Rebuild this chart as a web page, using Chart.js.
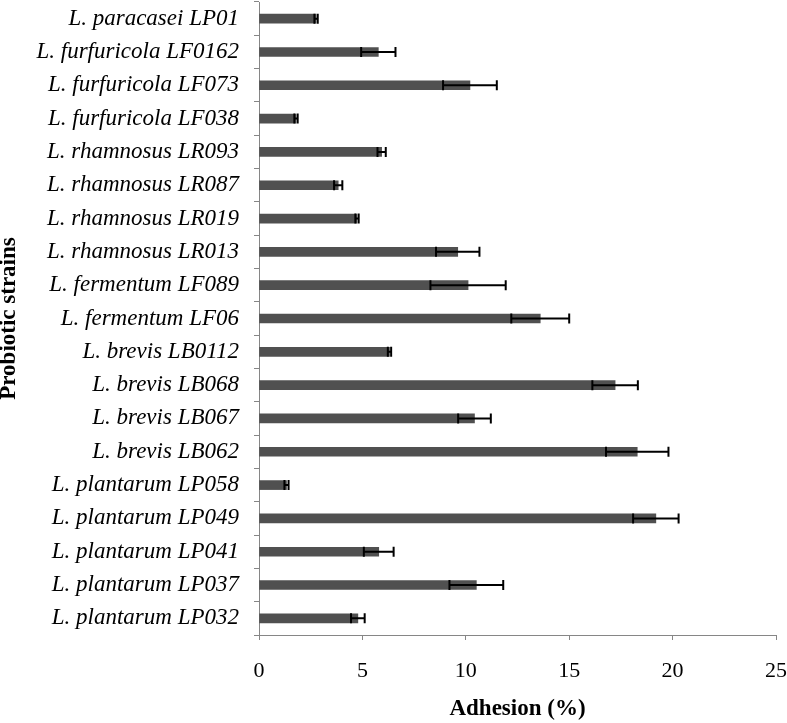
<!DOCTYPE html>
<html>
<head>
<meta charset="utf-8">
<title>Adhesion of probiotic strains</title>
<script src="https://cdn.jsdelivr.net/npm/chart.js@4.4.1/dist/chart.umd.min.js"></script>
<style>
  html, body { margin: 0; padding: 0; background: #fff; }
  #wrap { width: 787px; height: 723px; }
</style>
</head>
<body>
<div id="wrap"><canvas id="myChart" width="787" height="723"></canvas></div>
<script>
// strains, top to bottom as in the figure
const strains = [
  'L. paracasei LP01',
  'L. furfuricola LF0162',
  'L. furfuricola LF073',
  'L. furfuricola LF038',
  'L. rhamnosus LR093',
  'L. rhamnosus LR087',
  'L. rhamnosus LR019',
  'L. rhamnosus LR013',
  'L. fermentum LF089',
  'L. fermentum LF06',
  'L. brevis LB0112',
  'L. brevis LB068',
  'L. brevis LB067',
  'L. brevis LB062',
  'L. plantarum LP058',
  'L. plantarum LP049',
  'L. plantarum LP041',
  'L. plantarum LP037',
  'L. plantarum LP032'
]
// adhesion (%) and its error
const adhesion = [2.76, 5.77, 10.2, 1.79, 5.93, 3.83, 4.74, 9.61, 10.11, 13.6,
                  6.31, 17.22, 10.42, 18.29, 1.33, 19.19, 5.79, 10.51, 4.78]
const errors = [0.08, 0.83, 1.3, 0.08, 0.2, 0.2, 0.08, 1.05, 1.82, 1.4,
                0.08, 1.1, 0.79, 1.51, 0.1, 1.1, 0.72, 1.3, 0.33]
const xTicks = [0, 5, 10, 15, 20, 25]

const serif = "'Liberation Serif', 'Times New Roman', serif"
const axisGrey = '#868686'

// error bars drawn with the chart scales
const errorBars = {
  id: 'errorBars',
  afterDatasetsDraw(chart) {
    const xs = chart.scales.x
    const ys = chart.scales.y
    const ctx = chart.ctx
    ctx.save()
    ctx.strokeStyle = '#000'
    ctx.lineWidth = 2
    for (let i = 0; i < adhesion.length; i++) {
      const y = ys.getPixelForValue(i)
      const x1 = xs.getPixelForValue(adhesion[i] - errors[i])
      const x2 = xs.getPixelForValue(adhesion[i] + errors[i])
      ctx.beginPath()
      ctx.moveTo(x1, y); ctx.lineTo(x2, y)
      ctx.moveTo(x1, y - 5); ctx.lineTo(x1, y + 5)
      ctx.moveTo(x2, y - 5); ctx.lineTo(x2, y + 5)
      ctx.stroke()
    }
    ctx.restore()
  }
}

const data = {
  labels: strains,
  datasets: [{
    label: 'Adhesion (%)',
    data: adhesion,
    backgroundColor: '#505050',
    borderWidth: 0,
    barThickness: 9
  }]
}

const config = {
  type: 'bar',
  data: data,
  plugins: [errorBars],
  options: {
    indexAxis: 'y',
    responsive: false,
    animation: false,
    devicePixelRatio: 1,
    layout: { padding: { top: 2, right: 0, left: 0, bottom: 0 } },
    plugins: {
      legend: { display: false },
      tooltip: { enabled: false }
    },
    scales: {
      x: {
        min: 0,
        max: 25,
        afterBuildTicks: (scale) => { scale.ticks = xTicks.map(v => ({ value: v })) },
        afterFit: (scale) => {
          scale.height = 88
          scale.paddingLeft = 0
          scale.paddingRight = 11
        },
        border: { display: true, color: axisGrey, width: 1 },
        grid: { display: true, drawOnChartArea: false, drawTicks: true, tickLength: 5, color: axisGrey },
        ticks: {
          color: '#000',
          padding: 18,
          font: { family: serif, size: 22 }
        },
        title: {
          display: true,
          text: 'Adhesion (%)',
          color: '#000',
          padding: 0,
          font: { family: serif, size: 23, weight: 'bold', lineHeight: 1.2 }
        }
      },
      y: {
        afterFit: (scale) => {
          scale.width = 259
          scale.paddingTop = 0
          scale.paddingBottom = 0
        },
        border: { display: true, color: axisGrey, width: 1 },
        grid: { display: true, drawOnChartArea: false, drawTicks: true, tickLength: 5, color: axisGrey },
        ticks: {
          color: '#000',
          padding: 15,
          autoSkip: false,
          font: { family: serif, size: 23, style: 'italic' }
        },
        title: {
          display: true,
          text: 'Probiotic strains',
          color: '#000',
          padding: 0,
          font: { family: serif, size: 23, weight: 'bold', lineHeight: 0.8 }
        }
      }
    }
  }
}

var myChart = new Chart(document.getElementById('myChart'), config)
</script>
</body>
</html>
